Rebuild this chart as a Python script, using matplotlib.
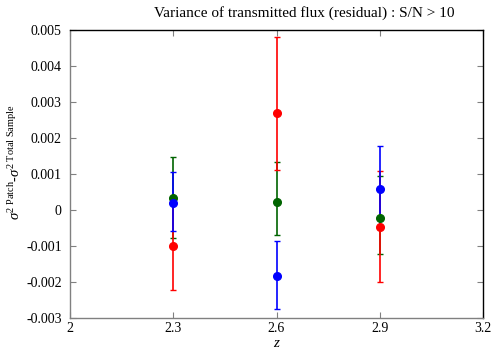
import matplotlib
matplotlib.use("Agg")
import matplotlib.pyplot as plt

plt.rcParams['font.family'] = ['Liberation Serif', 'DejaVu Serif']
plt.rcParams['mathtext.fontset'] = 'custom'
plt.rcParams['mathtext.rm'] = 'Liberation Serif'
plt.rcParams['mathtext.it'] = 'Liberation Serif:italic'

z = [2.3, 2.6, 2.9]

# values in units of 1e-3
green = [0.35, 0.23, -0.21]
green_lo = [1.12, 0.91, 1.0]
green_hi = [1.12, 1.12, 1.16]

red = [-1.0, 2.70, -0.46]
red_lo = [1.22, 1.58, 1.53]
red_hi = [1.22, 2.10, 1.54]

blue = [0.21, -1.83, 0.58]
blue_lo = [0.78, 0.91, 1.04]
blue_hi = [0.85, 0.97, 1.19]

xticks = [2, 2.3, 2.6, 2.9, 3.2]
yticks = [-0.003, -0.002, -0.001, 0, 0.001, 0.002, 0.003, 0.004, 0.005]
ytick_labels = ['-0.003', '-0.002', '-0.001', '0', '0.001', '0.002', '0.003', '0.004', '0.005']

fig = plt.figure(figsize=(5, 3.5), dpi=100)
ax = fig.add_axes([0.14, 0.091, 0.826, 0.823])

def sc(v):
    return [a * 1e-3 for a in v]

for vals, lo, hi, col in [(green, green_lo, green_hi, '#006400'),
                          (red, red_lo, red_hi, '#ff0000'),
                          (blue, blue_lo, blue_hi, '#0000ff')]:
    ax.errorbar(z, sc(vals), yerr=[sc(lo), sc(hi)], fmt='o', color=col,
                ms=5.5, elinewidth=1.2, capsize=2.5, capthick=1.0)

ax.set_xlim(2, 3.2)
ax.set_ylim(-0.003, 0.005)
ax.set_xticks(xticks)
ax.set_xticklabels(['2', '2.3', '2.6', '2.9', '3.2'])
ax.set_yticks(yticks)
ax.set_yticklabels(ytick_labels)
ax.tick_params(direction='in', length=4, width=0.8, color='#808080',
               top=True, right=True, labelsize=10)
ax.tick_params(axis='x', pad=3)
ax.tick_params(axis='y', pad=6)

for s in ['left', 'bottom']:
    ax.spines[s].set_color('#808080')
for s in ['top', 'right']:
    ax.spines[s].set_color('black')
for s in ax.spines.values():
    s.set_linewidth(1.0)

fig.text(0.609, 1 - 13 / 350, 'Variance of transmitted flux (residual) : S/N > 10',
         fontsize=11, ha='center', va='center')
ax.set_xlabel(r'$z$', fontsize=11, labelpad=1)
fig.text(0.03, 1 - 162 / 350,
         r'$\sigma^{2\ \mathrm{Patch}}$-$\sigma^{2\ \mathrm{Total\ Sample}}$',
         fontsize=10.5, rotation=90, ha='center', va='center')

fig.savefig('out.png', dpi=100)
